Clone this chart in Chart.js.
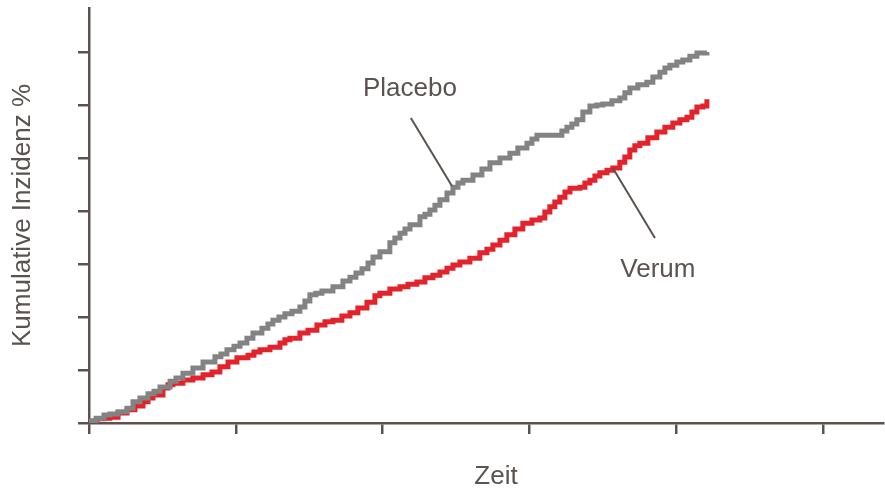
<!DOCTYPE html>
<html>
<head>
<meta charset="utf-8">
<script src="https://cdn.jsdelivr.net/npm/chart.js@4.4.1/dist/chart.umd.min.js"></script>
<style>
  body { margin: 0; background: #fff; }
  #wrap { width: 885px; height: 492px; }
</style>
</head>
<body>
<div id="wrap"><canvas id="incChart"></canvas></div>
<script>
const placeboX = [0, 0.48, 1.02, 1.43, 1.98, 2.59, 3.00, 3.47, 4.02, 4.43, 4.84, 5.52, 5.93, 6.40, 7.08, 7.77, 8.58, 8.99, 9.40, 9.88,
  10.29, 10.76, 11.17, 11.78, 12.19, 12.53, 12.94, 13.35, 13.83, 14.37, 14.71, 15.05, 15.46, 15.87, 16.62, 17.30, 17.78, 18.19, 18.60, 19.01,
  19.35, 19.82, 20.50, 20.84, 21.19, 21.53, 21.87, 22.55, 22.89, 23.23, 23.57, 23.91, 24.39, 24.80, 25.14, 25.48, 26.16, 26.77, 27.32, 28.00,
  28.68, 29.22, 29.84, 30.18, 30.52, 31.88, 32.22, 32.56, 32.90, 33.24, 33.65, 34.13, 34.60, 35.01, 35.63, 36.17, 36.51, 36.85, 37.40, 38.01,
  38.42, 38.90, 39.24, 39.58, 40.05, 40.46, 40.94, 41.42, 42.10];
const placeboY = [0.04, 0.09, 0.15, 0.17, 0.21, 0.28, 0.40, 0.47, 0.55, 0.60, 0.68, 0.79, 0.85, 0.94, 1.04, 1.15, 1.25, 1.30, 1.38, 1.45,
  1.51, 1.60, 1.70, 1.79, 1.87, 1.94, 2.00, 2.06, 2.11, 2.19, 2.30, 2.42, 2.45, 2.49, 2.57, 2.68, 2.75, 2.83, 2.91, 3.02,
  3.13, 3.23, 3.40, 3.49, 3.58, 3.66, 3.74, 3.89, 3.94, 4.02, 4.11, 4.21, 4.34, 4.45, 4.53, 4.58, 4.68, 4.79, 4.91, 5.00,
  5.09, 5.19, 5.28, 5.36, 5.43, 5.43, 5.51, 5.58, 5.64, 5.72, 5.87, 5.98, 6.00, 6.02, 6.08, 6.13, 6.23, 6.32, 6.38, 6.43,
  6.53, 6.62, 6.70, 6.75, 6.81, 6.85, 6.92, 6.98, 7.00];

const verumX = [0, 0.54, 1.02, 1.43, 1.98, 2.59, 3.13, 3.68, 4.02, 4.36, 5.04, 5.38, 5.72, 6.40, 7.08, 7.77, 8.38, 8.92, 9.47, 10.08,
  10.83, 11.24, 11.65, 12.33, 13.01, 13.35, 13.69, 14.37, 14.92, 15.53, 16.08, 16.62, 17.23, 17.78, 18.32, 18.94, 19.48, 19.82, 20.50, 21.19,
  21.73, 22.34, 22.89, 23.43, 23.91, 24.39, 24.80, 25.27, 25.95, 26.63, 27.11, 27.52, 28.00, 28.47, 29.02, 29.56, 30.18, 30.72, 31.06, 31.40,
  31.74, 32.08, 32.43, 32.77, 33.45, 33.79, 34.13, 34.47, 34.81, 35.29, 35.69, 36.17, 36.51, 36.85, 37.19, 37.53, 38.08, 38.69, 39.24, 39.78,
  40.26, 40.74, 41.08, 41.42, 41.83, 42.10];
const verumY = [0.04, 0.08, 0.09, 0.11, 0.19, 0.25, 0.32, 0.40, 0.47, 0.53, 0.66, 0.72, 0.75, 0.81, 0.85, 0.91, 0.96, 1.06, 1.15, 1.23,
  1.28, 1.34, 1.38, 1.43, 1.51, 1.57, 1.60, 1.70, 1.75, 1.85, 1.91, 1.94, 2.02, 2.08, 2.17, 2.28, 2.40, 2.45, 2.53, 2.57,
  2.62, 2.66, 2.74, 2.79, 2.85, 2.92, 2.98, 3.04, 3.11, 3.21, 3.28, 3.36, 3.45, 3.55, 3.66, 3.77, 3.83, 3.87, 3.98, 4.08,
  4.17, 4.26, 4.36, 4.43, 4.45, 4.53, 4.58, 4.66, 4.72, 4.77, 4.81, 4.92, 5.02, 5.15, 5.23, 5.28, 5.38, 5.49, 5.58, 5.66,
  5.72, 5.77, 5.87, 5.96, 5.98, 6.11];

// labels with their leader lines, in data units
const seriesLabels = ["Placebo", "Verum"];
const labelPos = [[21.87, 6.30], [38.76, 2.89]];
const leaderLines = [[21.93, 5.755, 24.73, 4.47], [35.69, 4.81, 38.56, 3.49]];

const axisColor = "#5b524e";
const textColor = "#5a5350";
const textFont = "26px 'Liberation Sans', Arial, sans-serif";

function toPoints(xs, ys) {
  return xs.map((x, i) => ({ x: x, y: ys[i] }));
}

const textPlugin = {
  id: "texts",
  afterDraw(chart) {
    const c = chart.ctx;
    const xs = chart.scales.x;
    const ys = chart.scales.y;
    const area = chart.chartArea;
    c.save();
    c.strokeStyle = axisColor;
    c.lineWidth = 2;
    leaderLines.forEach((l) => {
      c.beginPath();
      c.moveTo(xs.getPixelForValue(l[0]), ys.getPixelForValue(l[1]));
      c.lineTo(xs.getPixelForValue(l[2]), ys.getPixelForValue(l[3]));
      c.stroke();
    });
    c.fillStyle = textColor;
    c.font = textFont;
    c.textAlign = "center";
    c.textBaseline = "middle";
    seriesLabels.forEach((t, i) => {
      c.fillText(t, xs.getPixelForValue(labelPos[i][0]), ys.getPixelForValue(labelPos[i][1]));
    });
    // axis titles
    c.fillText("Zeit", area.left + 407, 477);
    c.translate(23, (area.top + area.bottom) / 2);
    c.rotate(-Math.PI / 2);
    c.fillText("Kumulative Inzidenz %", 0, 0);
    c.restore();
  },
};

const ctx = document.getElementById("incChart").getContext("2d");
const incChart = new Chart(ctx, {
  type: "line",
  data: {
    datasets: [
      {
        label: "Placebo",
        data: toPoints(placeboX, placeboY),
        borderColor: "#838383",
        borderWidth: 5,
        stepped: true,
        pointRadius: 0,
        fill: false,
      },
      {
        label: "Verum",
        data: toPoints(verumX, verumY),
        borderColor: "#e3232b",
        borderWidth: 5,
        stepped: true,
        pointRadius: 0,
        fill: false,
      },
    ],
  },
  options: {
    responsive: true,
    maintainAspectRatio: false,
    animation: false,
    layout: { padding: { top: 8, right: 2, left: 0, bottom: 0 } },
    plugins: {
      legend: { display: false },
      tooltip: { enabled: false },
    },
    scales: {
      x: {
        type: "linear",
        min: 0,
        max: 54.1,
        ticks: { display: false, stepSize: 10, includeBounds: false },
        grid: { drawOnChartArea: false, drawTicks: true, tickLength: 11, color: axisColor, lineWidth: 2.5 },
        border: { display: true, color: axisColor, width: 2.5 },
        afterFit(scale) { scale.height = 69; },
      },
      y: {
        type: "linear",
        min: 0,
        max: 7.83,
        ticks: { display: false, stepSize: 1, includeBounds: false },
        grid: { drawOnChartArea: false, drawTicks: true, tickLength: 11, color: axisColor, lineWidth: 2.5 },
        border: { display: true, color: axisColor, width: 2.5 },
        afterFit(scale) { scale.width = 89; },
      },
    },
  },
  plugins: [textPlugin],
});
</script>
</body>
</html>
